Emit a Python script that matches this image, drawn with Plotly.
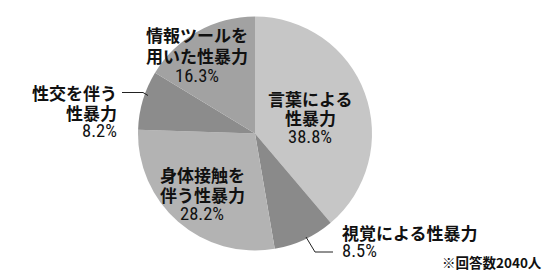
import plotly.graph_objects as go

# Data
labels = ["言葉による性暴力", "視覚による性暴力", "身体接触を伴う性暴力", "性交を伴う性暴力", "情報ツールを用いた性暴力"]
values = [38.8, 8.5, 28.2, 8.2, 16.3]
label_lines = [["言葉による", "性暴力"], ["視覚による性暴力"], ["身体接触を", "伴う性暴力"], ["性交を伴う", "性暴力"], ["情報ツールを", "用いた性暴力"]]
note = "※回答数2040人"

colors = ["#c6c6c6", "#8a8a8a", "#b3b3b3", "#8c8c8c", "#a2a2a2"]

W, H = 558, 279
def px(x):
    return x / W
def py(y):
    return 1 - y / H

fig = go.Figure(go.Pie(
    labels=labels, values=values, sort=False, direction="clockwise", rotation=0,
    marker=dict(colors=colors, line=dict(width=0)),
    textinfo="none", hoverinfo="label+percent", showlegend=False,
    domain=dict(x=[px(255 - 117), px(255 + 117)], y=[py(250.5), py(16.5)]),
))

FONT = "Noto Sans CJK JP"
NUMFONT = "Liberation Sans Narrow, Roboto Condensed, Noto Sans CJK JP"
TXT = "#111111"
fs = 17

# label layout: (x, [y per line], xanchor)
layout_pos = [
    (310, [98, 117.5, 137.5], "center"),
    (340, [232, 251], "left"),
    (202, [174, 194, 213.5], "center"),
    (119, [92, 112, 131], "right"),
    (197, [35, 55.5, 75.5], "center"),
]

annotations = []
for i, (x, ys, xa) in enumerate(layout_pos):
    lines = label_lines[i] + [f"{values[i]:.1f}%"]
    for j, (ln, y) in enumerate(zip(lines, ys)):
        is_num = j == len(lines) - 1
        annotations.append(dict(
            x=px(x), y=py(y), xref="paper", yref="paper", text=ln, showarrow=False,
            xanchor=xa, yanchor="middle",
            font=dict(family=NUMFONT if is_num else FONT, size=18.5 if is_num else fs,
                      color=TXT, weight="normal" if is_num else "bold"),
        ))

annotations.append(dict(
    x=px(544), y=py(262), xref="paper", yref="paper", text=note, showarrow=False,
    xanchor="right", yanchor="middle", font=dict(family=FONT, size=13.5, color=TXT, weight="bold"),
))

def path(pts):
    return "M " + " L ".join(f"{px(a)},{py(b)}" for a, b in pts)

shapes = [
    dict(type="path", xref="paper", yref="paper", path=path([(122, 92.5), (143, 92.5), (148, 95.5)]),
         line=dict(color="#222222", width=1)),
    dict(type="path", xref="paper", yref="paper", path=path([(306, 237), (315, 252), (333, 252)]),
         line=dict(color="#222222", width=1)),
]

fig.update_layout(
    width=W, height=H, margin=dict(l=0, r=0, t=0, b=0),
    paper_bgcolor="white", plot_bgcolor="white",
    annotations=annotations, shapes=shapes,
)

fig.write_html("out.html")
